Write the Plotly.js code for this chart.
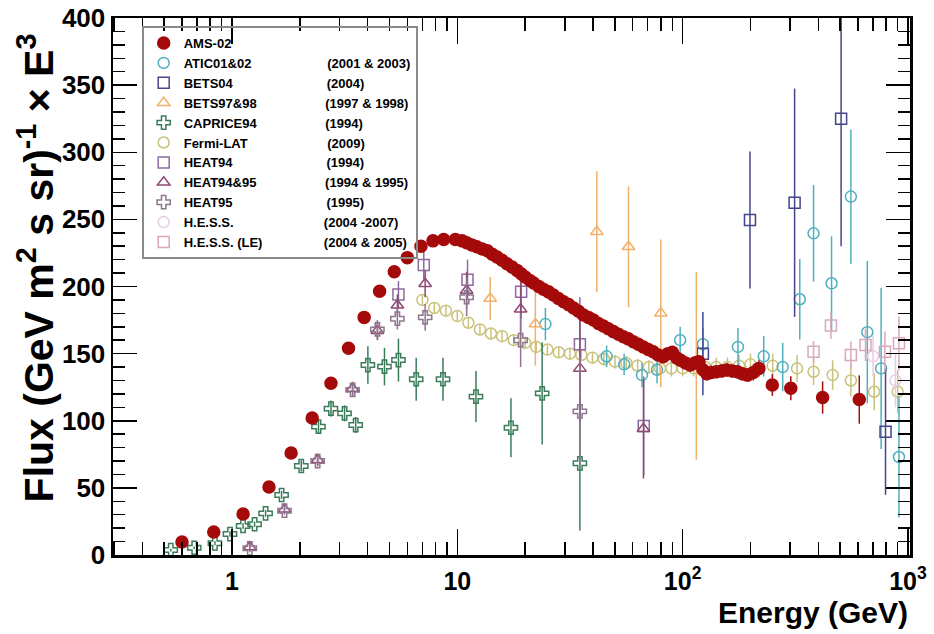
<!DOCTYPE html>
<html>
<head>
<meta charset="utf-8">
<script src="https://cdn.plot.ly/plotly-3.0.1.min.js"></script>
<style>html,body{margin:0;padding:0;background:#fff;}#plot{width:934px;height:634px;}</style>
</head>
<body>
<div id="plot"></div>
<script>
// ---- data ----
const amsE = [0.60,0.83,1.12,1.46,1.83,2.27,2.75,3.29,3.86,4.52,5.25,6.0,6.9,7.8,8.7,9.8,10.5,11.0,11.6,12.2,12.9,13.6,14.3,15.0,15.8,16.6,17.5,18.4,19.2,20.0,21.0,21.8,23.0,24.1,25.4,26.7,28.1,29.6,31.2,32.8,34.5,36.3,38.2,40.2,42.3,44.5,46.8,49.3,51.9,54.6,57.4,60.4,63.6,66.9,70.4,74.0,77.9,82.0,86.0,90.0,94.0,98.0,103,108,113,118,123,128,134,141,149,157,166,175,184,194,206,218,250,302,418,608];
const amsF = [9.7,17.1,30.5,50.7,76,102,128,154,177,196.5,211,221.5,230,234,235,235,234,232.6,231,229.6,228,226.7,224,222,219.5,217,214.5,212,209.5,207,204.5,202.6,200,198,196,193.7,191,188.7,186.5,184,181.5,178.8,177,175,172.5,170.6,168.5,166.4,164.5,162.6,161,158.9,157,155,153,151.4,149,147.7,150,151,147,145,143,141.5,143,144,138,135,136,136.5,137,137.8,137,136.5,135,134,136,139,126.6,124.2,117.3,115.8];
const amsErr = [0.8,1,1.2,1.5,2,2.5,3,3,3.5,4,4,4,4,4,4,4,4,4,4,4,4,4,4,4,4,4,4,4,4,4,4,4,4,4,4,4,4,4,4,4,4,4,4,4,4,4,4,4,4,4,4,4,4,4,4,4,4,4,4,4,4,4,4,5,5,5,5,5,5,5,5,5,5,5,5,5,6,6,8,9,12,18];

const aticE = [24.6,46,55,66,77,97.5,123,176,229,278,331,381,458,558,660,760,912];
const aticF = [172,148,142,134,138,160,157,155,148,140,190.5,239.6,202.4,267,166,139,73];
const aticErr = [12,8,8,9,10,10,12,14,15,18,30,36,35,50,53,60,45];

const bets04E = [123,199,314,505,795];
const bets04F = [150,249.5,262.4,325,91.8];
const bets04Err = [31,51,85,95,47];

const bets97E = [14,22.2,41.6,57.5,80,115];
const bets97F = [191,172,240.8,229.6,180,141];
const bets97Err = [16,31,45,45,55,70];

const capriceE = [0.535,0.68,0.84,0.98,1.12,1.26,1.41,1.66,2.03,2.42,2.75,3.16,3.54,4.01,4.75,5.48,6.57,8.64,12.1,17.3,23.8,35];
const capriceF = [3.7,5.4,8.7,15.6,21.6,22.9,31,44.7,66.3,95.6,109,105.5,96.8,141.5,140.3,145.2,130.9,130.9,118,94.8,120.4,68.3];
const capriceErr = [1,1,1.5,2,2,2,2.5,3,4,5,6,6,6,14,14,16,16,16,19,22,38,50];

const fermiE = [7.0,7.9,8.9,10,11.2,12.6,14.1,15.8,17.8,20,22.4,25.1,28.2,31.6,35.5,39.8,44.7,50.1,56.2,63.1,70.8,79.4,89.1,100,112,126,141,158,178,200,251,322,381,463,558,708,900];
const fermiF = [190,184,182,178,173,168,165,163,160,158,155,153,151,150,149,147,146,144,143,141,140,139,139,139,139,140,140,140,141,142,141,139,136.5,134,130,121.6,121.6];
const fermiErr = [4,4,4,4,4,4,4,4,4,4,4,4,4,4,4,4,5,5,5,5,5,5,6,6,6,6,7,7,8,8,9,10,10,11,12,14,16];

const heat94E = [5.48,7.1,11.1,19.2,35,67.2];
const heat94F = [194,216,205,196,157,96];
const heat94Err = [10,12,15,20,35,37];

const heat9495E = [1.2,1.71,2.4,3.43,4.42,5.42,7.2,11.0,19.1,35,67];
const heat9495F = [6,34,71,124,167,186,202,197,183,139,94];
const heat9495Err = [3,3,4,5,7,8,10,14,20,40,37];

const heat95E = [1.2,1.71,2.4,3.43,4.42,5.42,7.2,11.0,19.1,35];
const heat95F = [5,33,70,123,168,176,177,192,160,107];
const heat95Err = [3,3,4,5,7,8,10,14,20,40];

const hessE = [700,880];
const hessF = [148,130];
const hessErr = [15,20];

const hessLEE = [381,455,558,648,790,912];
const hessLEF = [151.4,171,149,156.4,151.4,157.7];
const hessLEErr = [8,10,10,12,15,20];

const names = ['AMS-02','ATIC01&02','BETS04','BETS97&98','CAPRICE94','Fermi-LAT','HEAT94','HEAT94&95','HEAT95','H.E.S.S.','H.E.S.S. (LE)'];
const years = ['','(2001 & 2003)','(2004)','(1997 & 1998)','(1994)','(2009)','(1994)','(1994 & 1995)','(1995)','(2004 -2007)','(2004 & 2005)'];
const xTickVals = [1,10,100,1000];
const xTickText = ['1','10','10<sup>2</sup>','10<sup>3</sup>'];

// ---- styling ----
const FONT = 'Liberation Sans, Arial, Helvetica, sans-serif';
const LEGEND_SIZE = 13;
const YEAR_OFFSET = 140; // px from start of name text to start of year text
const cv = document.createElement('canvas').getContext('2d');
cv.font = 'bold ' + LEGEND_SIZE + 'px "Liberation Sans"';
function label(i) {
  if (!years[i]) return names[i];
  let s = names[i];
  while (cv.measureText(s).width < YEAR_OFFSET) s += '\u00a0';
  return s + years[i];
}

function series(i, E, F, err, color, symbol, size, rank) {
  return {
    type: 'scatter', mode: 'markers', x: E, y: F, name: label(i),
    legendrank: rank,
    marker: {symbol: symbol, size: size, color: color, line: {color: color, width: 1.5}},
    error_y: {type: 'data', array: err, visible: true, thickness: 1.5, width: 0, color: color},
    hoverinfo: 'x+y'
  };
}

const traces = [
  series(5, fermiE, fermiF, fermiErr, '#c9c27a', 'circle-open', 11, 6),
  series(1, aticE, aticF, aticErr, '#4fb0bd', 'circle-open', 11, 2),
  series(2, bets04E, bets04F, bets04Err, '#45458c', 'square-open', 11, 3),
  series(3, bets97E, bets97F, bets97Err, '#f2b06a', 'triangle-up-open', 11, 4),
  series(4, capriceE, capriceF, capriceErr, '#3b7d5a', 'cross-open', 11, 5),
  series(6, heat94E, heat94F, heat94Err, '#8d6aa0', 'square-open', 11, 7),
  series(7, heat9495E, heat9495F, heat9495Err, '#8e4a72', 'triangle-up-open', 11, 8),
  series(8, heat95E, heat95F, heat95Err, '#8f7590', 'cross-open', 11, 9),
  series(9, hessE, hessF, hessErr, '#e6cce6', 'circle-open', 11, 10),
  series(10, hessLEE, hessLEF, hessLEErr, '#d8a8bd', 'square-open', 11, 11),
  series(0, amsE, amsF, amsErr, '#a50a0a', 'circle', 12, 1)
];

const minorX = [];
for (let d = -1; d <= 2; d++) for (let m = 2; m <= 9; m++) minorX.push(m * Math.pow(10, d));

const layout = {
  width: 934, height: 634,
  margin: {l: 113, r: 24, t: 18, b: 79},
  paper_bgcolor: '#fff', plot_bgcolor: '#fff',
  font: {family: FONT, color: '#000'},
  showlegend: true,
  legend: {
    x: 0.036, y: 0.985, xanchor: 'left', yanchor: 'top',
    bgcolor: 'rgba(255,255,255,0)', bordercolor: '#8a8a8a', borderwidth: 2,
    font: {family: FONT, size: LEGEND_SIZE, weight: 'bold', color: '#000'},
    tracegroupgap: 0
  },
  xaxis: {
    type: 'log', range: [-0.528, 3.009],
    tickmode: 'array', tickvals: xTickVals, ticktext: xTickText,
    ticks: 'inside', ticklen: 26, tickwidth: 1.5, tickcolor: '#000',
    showline: true, linecolor: '#000', linewidth: 2.5, mirror: 'allticks',
    showgrid: false, zeroline: false,
    tickfont: {family: FONT, size: 25, weight: 'bold'},
    ticklabelstandoff: 2,
    minor: {tickmode: 'array', tickvals: minorX, ticks: 'inside', ticklen: 13, tickwidth: 1.5, tickcolor: '#000', showgrid: false}
  },
  yaxis: {
    range: [0, 400], dtick: 50, tick0: 0,
    ticks: 'inside', ticklen: 24, tickwidth: 1.5, tickcolor: '#000',
    showline: true, linecolor: '#000', linewidth: 2.5, mirror: 'allticks',
    showgrid: false, zeroline: false,
    tickfont: {family: FONT, size: 26, weight: 'bold'},
    minor: {dtick: 10, ticks: 'inside', ticklen: 12, tickwidth: 1.5, tickcolor: '#000', showgrid: false}
  },
  annotations: [
    {text: 'Flux (GeV m<sup>2</sup> s sr)<sup>-1</sup> × E<sup>3</sup>', xref: 'paper', yref: 'paper',
     x: -0.097, y: 0.535, xanchor: 'center', yanchor: 'middle', textangle: -90, showarrow: false,
     font: {family: FONT, size: 41, weight: 'bold', color: '#000'}},
    {text: 'Energy (GeV)', xref: 'paper', yref: 'paper',
     x: 1.0, y: -0.107, xanchor: 'right', yanchor: 'middle', showarrow: false,
     font: {family: FONT, size: 30, weight: 'bold', color: '#000'}}
  ]
};

Plotly.newPlot('plot', traces, layout, {displayModeBar: false, staticPlot: true});
</script>
</body>
</html>
